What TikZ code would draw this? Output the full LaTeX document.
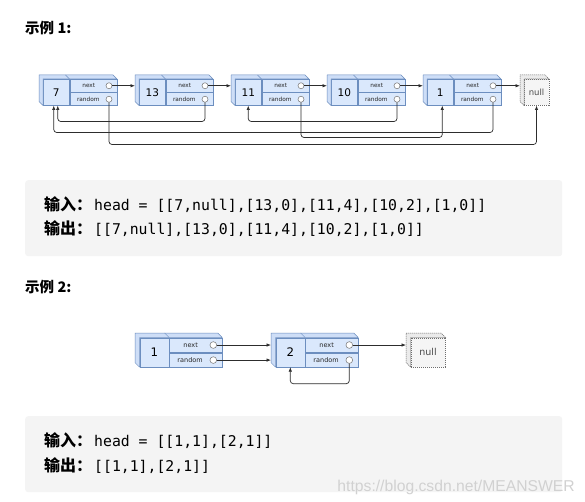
\documentclass[tikz,border=0pt]{standalone}
\usepackage{fontspec}
\setmainfont{DejaVu Sans}
\newfontfamily\cjkfont{Noto Sans CJK SC}
\newfontfamily\codefont{DejaVu Sans Mono}
\newfontfamily\markfont{Liberation Sans}
\usetikzlibrary{arrows.meta, calc}
\definecolor{nodefill}{RGB}{218,232,252}
\definecolor{nodeside}{RGB}{206,222,247}
\definecolor{nodeline}{RGB}{108,142,191}
\definecolor{nullfill}{RGB}{245,245,245}
\definecolor{nullline}{RGB}{110,110,110}
\definecolor{codebg}{RGB}{244,244,244}
\definecolor{wire}{RGB}{45,45,45}

% one list node: name, front top-left corner, value, size factor
\newcommand{\listnode}[4]{%
  \pgfmathsetmacro{\ls}{#4}%
  \pgfmathsetmacro{\lfs}{10.5*#4}%
  \pgfmathsetmacro{\pfs}{5.8*#4}%
  \node[valcell, minimum width=26pt*\ls, minimum height=26pt*\ls,
        font=\fontsize{\lfs}{\lfs}\selectfont] (#1) at (#2) {#3};
  \node[ptrcell, minimum width=47pt*\ls, minimum height=13pt*\ls] (#1-next) at (#1.north east) {};
  \node[ptrcell, minimum width=47pt*\ls, minimum height=13pt*\ls] (#1-rand) at (#1-next.south west) {};
  % depth faces (top and left)
  \filldraw[cubeside] (#1.south west) -- ++({-4*\ls},{-4*\ls})
    -- ($(#1.north west)+({-4*\ls},{-4*\ls})$)
    -- ($(#1-next.north east)+({-4*\ls},{-4*\ls})$)
    -- (#1-next.north east) -- (#1.north west) -- cycle;
  \draw[nodeline, line width=0.5pt] (#1.north east) -- ++({-4*\ls},{-4*\ls});
  \coordinate (#1-back) at ($(#1.west)+({-4*\ls},0)$);
  % field labels and ports
  \node[ptrlabel, font=\fontsize{\pfs}{\pfs}\selectfont] (#1-nl) at ($(#1-next.center)+({-4.5*\ls},0)$) {next};
  \node[ptrlabel, font=\fontsize{\pfs}{\pfs}\selectfont] (#1-rl) at ($(#1-rand.center)+({-5*\ls},0)$) {random};
  \node[port, minimum size=6pt*\ls] (#1-nc) at ($(#1-next.east)+({-8*\ls},0)$) {};
  \node[port, minimum size=6pt*\ls] (#1-rc) at ($(#1-rand.east)+({-8*\ls},0)$) {};
}

% the null end: name, front top-left corner, width, height, size factor
\newcommand{\nullnode}[5]{%
  \pgfmathsetmacro{\ls}{#5}%
  \pgfmathsetmacro{\nfs}{8.5*#5}%
  \node[nullcell, minimum width=#3, minimum height=#4,
        font=\fontsize{\nfs}{\nfs}\selectfont] (#1) at (#2) {null};
  \filldraw[nullside] (#1.south west) -- ++({-4*\ls},{-4*\ls})
    -- ($(#1.north west)+({-4*\ls},{-4*\ls})$)
    -- ($(#1.north east)+({-4*\ls},{-4*\ls})$)
    -- (#1.north east) -- (#1.north west) -- cycle;
  \coordinate (#1-back) at ($(#1.west)+({-4*\ls},0)$);
}

\newcommand{\cjklead}[1]{{\fontsize{16}{17}\selectfont\cjkfont\bfseries #1}\hspace{2pt}}

\begin{document}
\begin{tikzpicture}[
    x=1pt, y=-1pt,
    valcell/.style={draw=nodeline, fill=nodefill, line width=0.5pt, inner sep=0pt, anchor=north west},
    ptrcell/.style={draw=nodeline, fill=nodefill, line width=0.5pt, inner sep=0pt, anchor=north west},
    cubeside/.style={draw=nodeline, fill=nodeside, line width=0.5pt, line join=round},
    nullcell/.style={draw=nullline, fill=nullfill, dash pattern=on 1.2pt off 0.8pt, line width=0.5pt,
                     inner sep=0pt, anchor=north west, text=black!70},
    nullside/.style={draw=nullline, fill=black!8, dash pattern=on 1.2pt off 0.8pt, line width=0.5pt},
    ptrlabel/.style={inner sep=0pt, text=black!85},
    port/.style={circle, draw=black!55, fill=white, line width=0.5pt, inner sep=0pt},
    arr/.style={-{Latex[length=4.5pt,width=3.5pt]}, draw=wire, line width=0.7pt},
    codebox/.style={fill=codebg, rounded corners=3pt, inner sep=0pt, anchor=north west},
    title/.style={anchor=west, inner sep=0pt, font=\fontsize{14.5}{16}\selectfont\cjkfont\bfseries},
    codeline/.style={anchor=west, inner sep=0pt, font=\fontsize{14.8}{17}\selectfont\codefont}
]
  \path[fill=white] (0,0) rectangle (585,502);

  % Example 1
  \node[title] (t1) at (25,28) {示例 1:};

  \listnode{n7}{43,79}{7}{1}
  \listnode{n13}{139,79}{13}{1}
  \listnode{n11}{235,79}{11}{1}
  \listnode{n10}{331,79}{10}{1}
  \listnode{n1}{427,79}{1}{1}
  \nullnode{nnull}{524,79}{24.5pt}{26pt}{1}

  % next pointers
  \draw[arr] (n7-nc.east) -- (n13-back |- n7-nc.east);
  \draw[arr] (n13-nc.east) -- (n11-back |- n13-nc.east);
  \draw[arr] (n11-nc.east) -- (n10-back |- n11-nc.east);
  \draw[arr] (n10-nc.east) -- (n1-back |- n10-nc.east);
  \draw[arr] (n1-nc.east) -- (nnull-back |- n1-nc.east);

  % random pointers
  \draw[arr, rounded corners=3pt] (n13-rc.south) -- ++(0,19) -| ($(n7.south)+(1.5,0)$);
  \draw[arr, rounded corners=3pt] (n10-rc.south) -- ++(0,19) -| (n11.south);
  \draw[arr, rounded corners=3pt] (n1-rc.south) -- ++(0,30) -| ($(n7.south)+(-2.5,0)$);
  \draw[arr, rounded corners=3pt] (n11-rc.south) -- ++(0,35) -| ($(n1.south)+(2,0)$);
  \draw[arr, rounded corners=3pt] (n7-rc.south) -- ++(0,42) -| (nnull.south);

  \node[codebox, minimum width=537pt, minimum height=76pt] (box1) at (25,180) {};
  \node[codeline] (in1) at (44,205) {\cjklead{输入：}head = [[7,null],[13,0],[11,4],[10,2],[1,0]]};
  \node[codeline] (out1) at (44,229) {\cjklead{输出：}[[7,null],[13,0],[11,4],[10,2],[1,0]]};

  % Example 2
  \node[title] (t2) at (25,287) {示例 2:};

  \listnode{m1}{139.5,337.5}{1}{1.12}
  \listnode{m2}{275.5,337.5}{2}{1.12}
  \nullnode{mnull}{410.5,337.5}{34.5pt}{29pt}{1.12}

  \draw[arr] (m1-nc.east) -- (m2-back |- m1-nc.east);
  \draw[arr] (m1-rc.east) -- (m2-back |- m1-rc.east);
  \draw[arr] (m2-nc.east) -- (mnull-back |- m2-nc.east);
  \draw[arr, rounded corners=3pt] (m2-rc.south) -- ++(0,20) -| (m2.south);

  \node[codebox, minimum width=537pt, minimum height=76pt] (box2) at (25,416) {};
  \node[codeline] (in2) at (44,441) {\cjklead{输入：}head = [[1,1],[2,1]]};
  \node[codeline] (out2) at (44,466) {\cjklead{输出：}[[1,1],[2,1]]};

  \node[anchor=east, inner sep=0pt, text=black!18, font=\fontsize{15.7}{17}\selectfont\markfont] (mark) at (575,487) {https://blog.csdn.net/MEANSWER};
\end{tikzpicture}
\end{document}
